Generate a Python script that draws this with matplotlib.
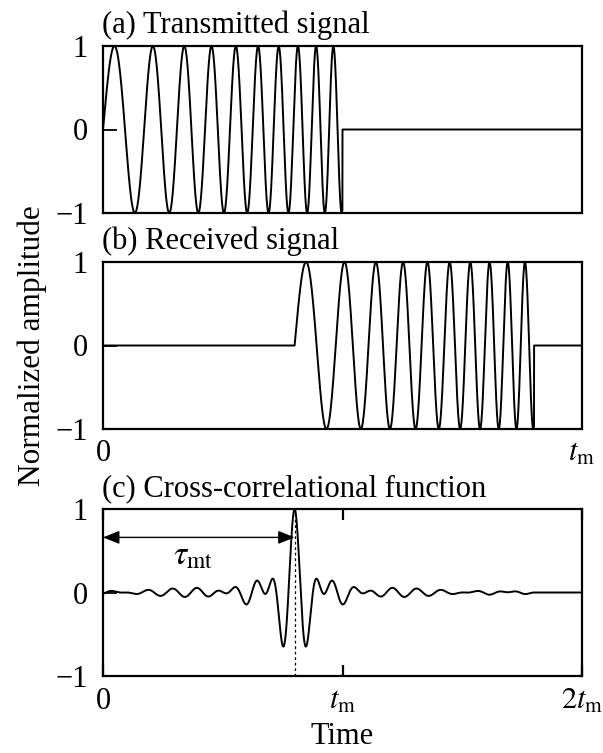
import numpy as np
import matplotlib
matplotlib.use("Agg")
import matplotlib.pyplot as plt

plt.rcParams["font.family"] = ["Liberation Serif", "DejaVu Serif"]
plt.rcParams["mathtext.fontset"] = "stix"

# ---- signal parameters (time in units of t_m) ----
chirp_duration = 0.5      # length of the transmitted pulse
chirp_f_start = 10.0      # instantaneous frequency at pulse start (cycles per t_m)
chirp_f_end = 29.2        # instantaneous frequency at pulse end (cycles per t_m)
echo_delay = 0.4          # round-trip delay of the received echo (tau_mt)
samples_per_tm = 4000

# ---- axis annotations ----
panel_titles = ["(a) Transmitted signal", "(b) Received signal",
                "(c) Cross-correlational function"]
amp_ticks = [-1, 0, 1]
amp_ticklabels = ["\u22121", "0", "1"]
time_ticks_signal = [0, 1]
time_ticklabels_signal = ["0", r"$t_{\mathrm{m}}$"]
time_ticks_corr = [0, 1, 2]
time_ticklabels_corr = ["0", r"$t_{\mathrm{m}}$", r"$2t_{\mathrm{m}}$"]
tau_label = r"$\tau_{\mathrm{mt}}$"
tau_arrow_level = 0.66
tau_label_pos = (0.376, 0.43)


def chirp(t):
    """Linear FM pulse starting at t = 0, zero outside the pulse."""
    rate = (chirp_f_end - chirp_f_start) / chirp_duration
    phase = 2 * np.pi * (chirp_f_start * t + 0.5 * rate * t ** 2)
    inside = (t >= 0) & (t < chirp_duration)
    return np.where(inside, np.sin(phase), 0.0)


t = np.arange(samples_per_tm + 1) / samples_per_tm
transmitted = chirp(t)
received = chirp(t - echo_delay)

# matched-filter output: correlate echo with the transmitted pulse
corr_full = np.correlate(received, transmitted, mode="full")
lags = (np.arange(corr_full.size) - (t.size - 1)) / samples_per_tm
keep = lags >= 0
corr = corr_full[keep] / np.abs(corr_full).max()
corr_time = 2 * lags[keep]          # correlation drawn on the 0 .. 2 t_m axis
peak_time = corr_time[np.argmax(corr)]

W, H = 603, 753
fig = plt.figure(figsize=(W / 100, H / 100), dpi=100)

left, right = 103 / W, 582 / W
tops = [46, 262, 509]
height_px = 167
axes = []
for top in tops:
    ax = fig.add_axes([left, 1 - (top + height_px) / H, right - left, height_px / H])
    axes.append(ax)

FS = 22
line_kw = dict(color="black", lw=1.4)

for ax, title in zip(axes, panel_titles):
    for sp in ax.spines.values():
        sp.set_linewidth(1.6)
    ax.set_ylim(-1, 1)
    ax.set_yticks(amp_ticks)
    ax.set_yticklabels(amp_ticklabels)
    ax.tick_params(axis="y", direction="in", length=10, width=1.3,
                   labelsize=FS, pad=11)
    ax.annotate(title, xy=(0, 1), xycoords="axes fraction",
                xytext=(-1, 9), textcoords="offset points",
                ha="left", va="baseline", fontsize=FS)

# (a) transmitted pulse
ax = axes[0]
ax.plot(t, transmitted, **line_kw)
ax.set_xlim(0, 1)
ax.set_xticks([])

# (b) received echo
ax = axes[1]
ax.plot(t, received, **line_kw)
ax.set_xlim(0, 1)
ax.set_xticks(time_ticks_signal)
ax.set_xticklabels(time_ticklabels_signal)
ax.tick_params(axis="x", direction="in", length=0, labelsize=FS, pad=7)

# (c) cross-correlation
ax = axes[2]
ax.plot(corr_time, corr, **line_kw)
ax.set_xlim(0, 2)
ax.set_xticks(time_ticks_corr)
ax.set_xticklabels(time_ticklabels_corr)
ax.tick_params(axis="x", direction="in", top=True, length=8, width=1.6,
               labelsize=FS, pad=8)
ax.plot([peak_time, peak_time], [-1, corr.max()], color="black", lw=0.9,
        ls=(0, (2.2, 2.2)))
ax.annotate("", xy=(0, tau_arrow_level), xytext=(peak_time, tau_arrow_level),
            arrowprops=dict(arrowstyle="<|-|>,head_length=0.5,head_width=0.2",
                            color="black", lw=1.0, mutation_scale=20,
                            shrinkA=0, shrinkB=0))
ax.text(*tau_label_pos, tau_label, fontsize=FS + 2, ha="center", va="center")
ax.set_xlabel("Time", fontsize=FS, labelpad=4)

fig.text(32 / W, 1 - 346 / H, "Normalized amplitude", rotation=90,
         ha="center", va="center", fontsize=FS + 0.5)

fig.savefig("out.png", dpi=100)
